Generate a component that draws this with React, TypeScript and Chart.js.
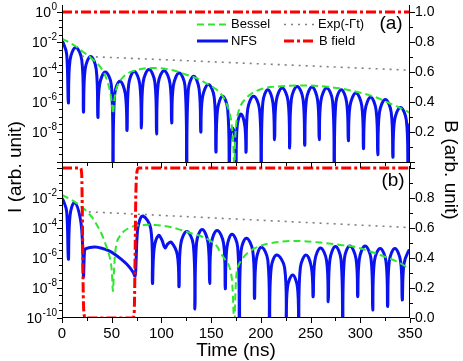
import React, { useEffect, useRef } from 'react';
import { Chart, registerables } from 'chart.js';

Chart.register(...registerables);

// ---------- data (time in ns, intensity as log10 exponent, B field in arb. units) ----------
const TOP_NFS: [number, number][] = [
  [0, -1.95], [1.5, -2.1], [4.7, -2.8],
  [6.4, -6.07],
  [8.1, -3.21], [13.8, -2.36], [19.9, -3.21],
  [21.6, -6.67],
  [23.3, -3.81], [28.8, -2.96], [34.4, -3.81],
  [36.1, -7.02],
  [37.8, -4.85], [43.5, -4.0], [49.6, -4.85],
  [51.3, -10.5],
  [53.0, -5.47], [58.3, -4.62], [63.7, -5.47],
  [65.4, -7.89],
  [67.1, -4.81], [72.6, -3.96], [78.2, -4.81],
  [79.9, -7.73],
  [81.6, -4.69], [87.5, -3.84], [93.4, -4.69],
  [95.1, -8.13],
  [96.8, -4.76], [102.7, -3.91], [108.6, -4.76],
  [110.3, -7.4],
  [112.0, -4.92], [117.8, -4.07], [123.7, -4.92],
  [125.4, -10.5],
  [127.1, -5.14], [132.5, -4.29], [137.9, -5.14],
  [139.6, -8.0],
  [141.3, -5.69], [147.2, -4.84], [153.1, -5.69],
  [154.8, -9.33],
  [156.5, -6.47], [161.5, -5.62], [166.6, -6.47],
  [168.3, -10.5],
  [169.1, -8.5], [171.6, -7.73], [174.2, -8.5],
  [175.0, -10.5],
  [176.2, -7.6], [180.0, -6.8], [183.9, -7.6],
  [185.1, -9.33],
  [186.8, -6.47], [192.7, -5.62], [198.6, -6.47],
  [200.3, -10.5],
  [202.0, -6.03], [207.0, -5.18], [212.1, -6.03],
  [213.8, -8.51],
  [215.5, -5.92], [221.4, -5.07], [227.3, -5.92],
  [229.0, -9.07],
  [230.7, -5.81], [236.5, -4.96], [242.4, -5.81],
  [244.1, -8.89],
  [245.8, -5.85], [251.4, -5.0], [257.0, -5.85],
  [258.7, -8.51],
  [260.4, -5.92], [266.2, -5.07], [272.1, -5.92],
  [273.8, -10.5],
  [275.5, -6.03], [280.9, -5.18], [286.3, -6.03],
  [288.0, -8.58],
  [289.7, -6.25], [295.6, -5.4], [301.5, -6.25],
  [303.2, -9.11],
  [304.9, -6.54], [310.4, -5.69], [315.9, -6.54],
  [317.6, -9.51],
  [319.3, -6.69], [325.2, -5.84], [331.1, -6.69],
  [332.8, -9.67],
  [334.5, -7.21], [340.4, -6.36], [346.3, -7.21],
  [348.0, -10.5],
  [349.2, -8.2], [350, -7.4],
];

const TOP_BESSEL: [number, number][] = [
  [0, -1.78], [5, -1.95], [13, -2.25], [20, -2.6], [27, -2.95], [35, -3.4], [41, -3.9],
  [45, -4.5], [48, -5.2], [50, -6.0], [51.3, -6.8], [52.6, -5.9], [55, -5.05], [60, -4.45],
  [67, -4.05], [75, -3.87], [85, -3.75], [95, -3.73], [105, -3.8], [115, -3.95], [125, -4.18],
  [135, -4.4], [145, -4.75], [155, -5.15], [162, -5.65], [167, -6.4], [170, -7.2], [172, -8.5],
  [173.3, -10.5], [174.5, -8.0], [176.5, -6.9], [180, -6.2], [185, -5.75], [190, -5.47],
  [200, -5.15], [210, -5.0], [220, -4.95], [235, -4.9], [250, -4.9], [265, -4.97], [283, -5.13],
  [300, -5.38], [310, -5.56], [320, -5.8], [330, -6.1], [337, -6.29], [345, -6.55], [350, -6.73],
];

const TOP_EXP: [number, number][] = [[20, -2.95], [350, -3.88]];
const TOP_BFIELD: [number, number][] = [[0, 1], [350, 1]];

const BOT_NFS: [number, number][] = [
  [0, -2.02], [1.5, -2.2], [4.7, -2.9],
  [6.4, -6.09],
  [8.1, -3.16], [12.5, -2.31], [18.2, -3.3], [20.6, -5.0],
  [21.6, -7.24],
  [22.6, -5.6], [23.5, -5.4], [28, -5.3], [33.4, -5.27], [40, -5.35], [46.8, -5.51], [53, -5.75],
  [60.4, -6.13], [65, -6.4], [68.8, -6.69], [71.5, -6.95], [73.5, -7.2],
  [74.5, -6.2], [75.5, -4.6], [77, -3.75], [81.3, -3.2], [89.3, -4.05],
  [91.0, -7.69],
  [92.7, -5.35], [97, -4.5], [100.5, -4.8], [103.5, -5.32], [106.5, -5.05], [110, -4.95], [116, -5.8],
  [117.7, -7.91],
  [119.4, -5.09], [125.5, -4.24], [132.0, -5.09],
  [133.7, -9.4],
  [135.4, -4.95], [141.0, -4.1], [146.8, -4.95],
  [148.5, -7.7],
  [150.2, -5.02], [156.0, -4.17], [162.5, -5.02],
  [164.2, -8.05],
  [165.9, -5.27], [171.0, -4.42], [176.7, -5.27],
  [178.4, -10.5],
  [180.1, -5.54], [185.5, -4.69], [191.9, -5.54],
  [193.6, -8.69],
  [195.3, -6.14], [200.5, -5.29], [207.0, -6.14],
  [208.7, -10.5],
  [210.4, -6.65], [216.0, -5.8], [223.9, -6.65],
  [225.6, -10.5],
  [226.8, -7.95], [232.0, -7.13], [236.8, -7.95],
  [238.0, -10.5],
  [239.7, -6.65], [245.5, -5.8], [250.9, -6.65],
  [252.6, -8.58],
  [254.3, -6.18], [260.0, -5.33], [266.1, -6.18],
  [267.8, -8.91],
  [269.5, -6.09], [275.0, -5.24], [280.6, -6.09],
  [282.3, -10.5],
  [284.0, -6.05], [289.5, -5.2], [295.7, -6.05],
  [297.4, -8.58],
  [299.1, -6.05], [304.8, -5.2], [310.8, -6.05],
  [312.5, -9.47],
  [314.2, -6.21], [320.0, -5.36], [325.8, -6.21],
  [327.5, -9.24],
  [329.2, -6.21], [334.8, -5.36], [340.5, -6.21],
  [342.2, -8.8],
  [343.9, -6.4], [348.7, -5.51], [350, -5.55],
];

const BOT_BESSEL: [number, number][] = [
  [0, -1.8], [6, -2.0], [12.5, -2.24], [20, -2.6], [26.6, -3.02], [31, -3.35], [35.1, -3.8],
  [39.5, -4.35], [43.5, -5.02], [46.5, -5.6], [48.6, -6.13], [50, -6.8], [51.2, -8.2], [52.2, -7.0],
  [53.3, -5.8], [55.3, -4.91], [58.5, -4.5], [62, -4.24], [66, -4.05], [70.5, -3.91], [80.6, -3.8],
  [94, -3.8], [105, -3.88], [117.7, -4.09], [130, -4.35], [140, -4.55], [148, -4.8], [155, -5.15],
  [159.8, -5.69], [164, -6.1], [168.3, -6.58], [171, -7.5], [173.3, -10.5], [174.6, -8.0], [176, -6.8],
  [178.5, -6.35], [181.8, -6.02], [187, -5.65], [193.6, -5.36], [200, -5.18], [208.7, -5.02],
  [218, -4.93], [229, -4.87], [240.8, -4.87], [253, -4.93], [266, -5.02], [280, -5.13], [293, -5.24],
  [306, -5.48], [320, -5.8], [328, -6.0], [337, -6.24], [344, -6.5], [350, -6.76],
];

const BOT_EXP: [number, number][] = [[20, -2.9], [350, -3.97]];
const BOT_BFIELD: [number, number][] = [
  [0, 1], [18.5, 1], [19.8, 0.96], [20.6, 0.6], [21.4, 0.15], [22.3, 0.02], [24, 0],
  [71, 0], [72.6, 0.03], [73.4, 0.35], [74.2, 0.8], [75.3, 0.97], [77, 1], [350, 1],
];

// ---------- tick labels ----------
const X_TICKS = [0, 50, 100, 150, 200, 250, 300, 350];
const TOP_LEFT_TICKS = [0, -2, -4, -6, -8];
const BOT_LEFT_TICKS = [-2, -4, -6, -8, -10];
const TOP_RIGHT_TICKS = [1.0, 0.8, 0.6, 0.4, 0.2];
const BOT_RIGHT_TICKS = [0.8, 0.6, 0.4, 0.2, 0.0];
const LEGEND_LABELS = ['Bessel', 'NFS', 'Exp(-\u0393t)', 'B field'];

// ---------- styling / layout ----------
const W = 463;
const H = 361;
const PLOT_LEFT = 62;
const PLOT_RIGHT = 410;
const FONT = "'Liberation Sans', Arial, Helvetica, sans-serif";
const C_NFS = '#0a12f0';
const C_BESSEL = '#2ee62e';
const C_EXP = '#808080';
const C_B = '#ff0000';
const DASH_BESSEL = [7, 4];
const DASH_EXP = [2, 5];
const DASH_B = [10, 3, 3, 3];

type Panel = {
  top: number;
  bottom: number;
  logMin: number;
  logMax: number;
  bMin: number;
  bMax: number;
  nfs: [number, number][];
  bessel: [number, number][];
  exp: [number, number][];
  bfield: [number, number][];
  leftTicks: number[];
  rightTicks: number[];
  isTop: boolean;
};

const TOP_PANEL: Panel = {
  top: 5, bottom: 163, logMin: -10.067, logMax: 0.467, bMin: -0.0067, bMax: 1.0467,
  nfs: TOP_NFS, bessel: TOP_BESSEL, exp: TOP_EXP, bfield: TOP_BFIELD,
  leftTicks: TOP_LEFT_TICKS, rightTicks: TOP_RIGHT_TICKS, isTop: true,
};
const BOT_PANEL: Panel = {
  top: 166, bottom: 318, logMin: -10, logMax: 0.133, bMin: 0, bMax: 1.0133,
  nfs: BOT_NFS, bessel: BOT_BESSEL, exp: BOT_EXP, bfield: BOT_BFIELD,
  leftTicks: BOT_LEFT_TICKS, rightTicks: BOT_RIGHT_TICKS, isTop: false,
};

const logPts = (a: [number, number][]) => a.map(([x, e]) => ({ x, y: Math.pow(10, e) }));
const linPts = (a: [number, number][]) => a.map(([x, y]) => ({ x, y }));

function drawPow(ctx: CanvasRenderingContext2D, exp: number, xRight: number, y: number) {
  const base = '10';
  const sup = exp < 0 ? '-' + String(-exp) : String(exp);
  ctx.font = `14px ${FONT}`;
  const wb = ctx.measureText(base).width;
  ctx.font = `10px ${FONT}`;
  const ws = ctx.measureText(sup).width;
  const x0 = xRight - ws - wb - 0.5;
  ctx.textAlign = 'left';
  ctx.textBaseline = 'middle';
  ctx.font = `14px ${FONT}`;
  ctx.fillText(base, x0, y + 1);
  ctx.font = `10px ${FONT}`;
  ctx.fillText(sup, x0 + wb + 0.5, y - 5);
}

function legendSample(ctx: CanvasRenderingContext2D, x0: number, x1: number, y: number, color: string, width: number, dash: number[]) {
  ctx.save();
  ctx.strokeStyle = color;
  ctx.lineWidth = width;
  ctx.setLineDash(dash);
  ctx.beginPath();
  ctx.moveTo(x0, y);
  ctx.lineTo(x1, y);
  ctx.stroke();
  ctx.restore();
}

function axesPlugin(p: Panel) {
  return {
    id: 'panelAxes',
    afterDraw(chart: any) {
      const ctx: CanvasRenderingContext2D = chart.ctx;
      const xs = chart.scales.x;
      const yl = chart.scales.yL;
      const yr = chart.scales.yR;
      const { left, right, top, bottom } = chart.chartArea;
      ctx.save();
      ctx.strokeStyle = '#000';
      ctx.fillStyle = '#000';
      ctx.lineWidth = 1;
      ctx.setLineDash([]);
      // frame: left, right, bottom
      ctx.beginPath();
      ctx.moveTo(left + 0.5, top);
      ctx.lineTo(left + 0.5, bottom);
      ctx.moveTo(right - 0.5, top);
      ctx.lineTo(right - 0.5, bottom);
      ctx.moveTo(left, bottom - 0.5);
      ctx.lineTo(right, bottom - 0.5);
      ctx.stroke();
      // left log ticks every half decade
      ctx.beginPath();
      for (let k = Math.ceil(p.logMin * 2); k <= Math.floor(p.logMax * 2); k++) {
        const e = k / 2;
        const y = Math.round(yl.getPixelForValue(Math.pow(10, e))) + 0.5;
        const major = k % 4 === 0;
        const len = major ? 5 : 3;
        ctx.moveTo(left, y);
        ctx.lineTo(left - len, y);
      }
      // right linear ticks every 0.1
      for (let k = 0; k <= 10; k++) {
        const v = k / 10;
        if (v < p.bMin - 1e-9 || v > p.bMax + 1e-9) continue;
        const y = Math.round(yr.getPixelForValue(v)) + 0.5;
        const len = k % 2 === 0 ? 5 : 3;
        ctx.moveTo(right, y);
        ctx.lineTo(right + len, y);
      }
      // bottom x ticks every 25
      for (let t = 0; t <= 350; t += 25) {
        const x = Math.round(xs.getPixelForValue(t)) + 0.5;
        const len = t % 50 === 0 ? 5 : 3;
        ctx.moveTo(x, bottom);
        ctx.lineTo(x, bottom + len);
      }
      ctx.stroke();

      // left labels
      for (const e of p.leftTicks) {
        drawPow(ctx, e, 57, yl.getPixelForValue(Math.pow(10, e)));
      }
      // right labels
      ctx.font = `14px ${FONT}`;
      ctx.textAlign = 'left';
      ctx.textBaseline = 'middle';
      for (const v of p.rightTicks) {
        ctx.fillText(v.toFixed(1), right + 5, yr.getPixelForValue(v) + 0.5);
      }

      if (p.isTop) {
        // legend
        ctx.font = `13px ${FONT}`;
        ctx.textBaseline = 'middle';
        legendSample(ctx, 197, 228, 24.5, C_BESSEL, 2, DASH_BESSEL);
        ctx.fillText(LEGEND_LABELS[0], 231, 24.5);
        legendSample(ctx, 197, 228, 41, C_NFS, 3, []);
        ctx.fillText(LEGEND_LABELS[1], 231, 41);
        legendSample(ctx, 284, 315, 24.5, C_EXP, 1.6, DASH_EXP);
        ctx.fillText(LEGEND_LABELS[2], 318, 24.5);
        legendSample(ctx, 284, 315, 41, C_B, 3, DASH_B);
        ctx.fillText(LEGEND_LABELS[3], 319, 41);
        ctx.font = `19px ${FONT}`;
        ctx.textAlign = 'center';
        ctx.fillText('(a)', 391, 24);
      } else {
        ctx.font = `19px ${FONT}`;
        ctx.textAlign = 'center';
        ctx.textBaseline = 'middle';
        ctx.fillText('(b)', 393, 181);
        // x tick labels
        ctx.font = `15px ${FONT}`;
        ctx.textBaseline = 'top';
        for (const t of X_TICKS) {
          ctx.fillText(String(t), xs.getPixelForValue(t), 326);
        }
        // axis titles
        ctx.font = `19px ${FONT}`;
        ctx.textBaseline = 'alphabetic';
        ctx.fillText('Time (ns)', (PLOT_LEFT + PLOT_RIGHT) / 2, 356);
        ctx.save();
        ctx.translate(21, 167);
        ctx.rotate(-Math.PI / 2);
        ctx.fillText('I (arb. unit)', 0, 0);
        ctx.restore();
        ctx.save();
        ctx.translate(445, 170);
        ctx.rotate(Math.PI / 2);
        ctx.fillText('B (arb. unit)', 0, 0);
        ctx.restore();
      }
      ctx.restore();
    },
  };
}

function makeConfig(p: Panel): any {
  return {
    type: 'line',
    data: {
      datasets: [
        {
          label: 'B field', data: linPts(p.bfield), yAxisID: 'yR', borderColor: C_B, borderWidth: 3,
          borderDash: DASH_B, cubicInterpolationMode: 'monotone', order: 0,
        },
        {
          label: 'Bessel', data: logPts(p.bessel), yAxisID: 'yL', borderColor: C_BESSEL, borderWidth: 2,
          borderDash: DASH_BESSEL, tension: 0.35, order: 1,
        },
        {
          label: 'Exp', data: logPts(p.exp), yAxisID: 'yL', borderColor: C_EXP, borderWidth: 1.6,
          borderDash: DASH_EXP, tension: 0, order: 2,
        },
        {
          label: 'NFS', data: logPts(p.nfs), yAxisID: 'yL', borderColor: C_NFS, borderWidth: 3,
          tension: 0.4, borderJoinStyle: 'round', order: 3,
        },
      ],
    },
    options: {
      animation: false,
      responsive: false,
      events: [],
      layout: { padding: { left: PLOT_LEFT, right: W - PLOT_RIGHT, top: p.top, bottom: H - p.bottom } },
      elements: { point: { radius: 0 }, line: { fill: false } },
      plugins: { legend: { display: false }, tooltip: { enabled: false }, title: { display: false } },
      scales: {
        x: { type: 'linear', min: 0, max: 350, display: false },
        yL: { type: 'logarithmic', position: 'left', min: Math.pow(10, p.logMin), max: Math.pow(10, p.logMax), display: false },
        yR: { type: 'linear', position: 'right', min: p.bMin, max: p.bMax, display: false },
      },
    },
    plugins: [axesPlugin(p)],
  };
}

export default function App() {
  const topRef = useRef<HTMLCanvasElement>(null);
  const botRef = useRef<HTMLCanvasElement>(null);
  useEffect(() => {
    const cb = new Chart(botRef.current as HTMLCanvasElement, makeConfig(BOT_PANEL));
    const ct = new Chart(topRef.current as HTMLCanvasElement, makeConfig(TOP_PANEL));
    return () => {
      cb.destroy();
      ct.destroy();
    };
  }, []);
  return (
    <div style={{ position: 'fixed', left: 0, top: 0, width: W, height: H, background: '#fff' }}>
      <canvas ref={botRef} width={W} height={H} style={{ position: 'absolute', left: 0, top: 0 }} />
      <canvas ref={topRef} width={W} height={H} style={{ position: 'absolute', left: 0, top: 0 }} />
    </div>
  );
}
